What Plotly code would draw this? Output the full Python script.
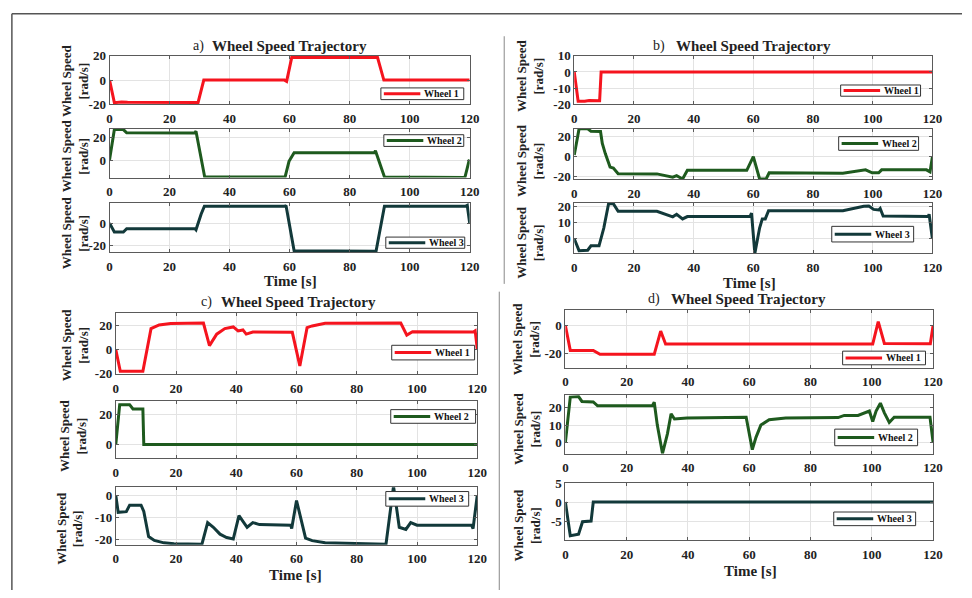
import plotly.graph_objects as go

# ---------------- data ----------------
a_w1_t = [0, 1.6, 4, 6, 29.5, 31.4, 58.3, 59, 60.7, 89.3, 91.4, 120]
a_w1_v = [0, -18.5, -18, -18.2, -18.3, 0, 0, -1, 18.5, 18.5, 0, 0]
a_w2_t = [0, 1.6, 4.6, 5.7, 28.4, 28.8, 31.7, 58.5, 59.8, 61.5, 88.3, 88.6, 91.6, 118.4, 119.8, 120]
a_w2_v = [0.8, 27, 27, 24.2, 24, 25.6, -14, -14, -0.5, 7, 7, 8.7, -14, -14.5, 0, 0]
a_w3_t = [0, 1.6, 4.6, 5.7, 28.4, 28.8, 30.5, 31.6, 58.5, 58.8, 61.5, 88.8, 91.6, 118.7, 119.2, 120]
a_w3_v = [0, -8, -8, -5, -4.8, -6, 8, 15.3, 15.3, 16, -25, -25.5, 15.3, 15.3, 16, 0]

b_w1_t = [0, 1.3, 3.5, 5, 8.5, 9, 120]
b_w1_v = [0, -18, -18, -17.5, -17.7, 0, 0]
b_w2_t = [0, 1.6, 4.5, 5.6, 8.8, 9.4, 10.4, 12, 13.1, 14.7, 27.7, 33, 34.3, 35.7, 36.3, 37.9,
          57.8, 60, 62.1, 64.3, 65.3, 90, 96.5, 97.6, 99.8, 102, 103, 118, 119.2, 120]
b_w2_v = [1.6, 27.4, 27.4, 25, 24.8, 13, 3, -10.3, -11.3, -16.8, -17, -20.3, -18.7, -21, -22, -13.5,
          -13.5, 0, -22, -22, -16, -16.3, -13.5, -13, -16, -16, -13, -13, -15, 0]
b_w3_t = [0, 1.6, 4.5, 5.6, 8.3, 9.9, 11.5, 13.1, 14.7, 27.7, 33, 34.3, 36.3, 37.9, 58.9, 59.4, 60.5,
          62.1, 63, 64, 65.1, 90, 97, 98.7, 100.3, 102, 102.5, 103.5, 118.6, 118.9, 120]
b_w3_v = [0, -7.5, -7.2, -4.5, -4.5, 6.7, 22, 22, 17.2, 17.2, 13.7, 15.3, 12.4, 13.9, 14, 16, -9.2,
          6.7, 12.4, 12.4, 17.5, 17.5, 20.4, 20.5, 18.4, 18, 19, 14.2, 14, 15.3, 0]

c_w1_t = [0, 1.5, 9, 11.7, 14.4, 18.2, 29.1, 31.1, 33.5, 36.2, 39, 40.6, 42.2, 43.3, 45.5, 58.6,
          61.1, 63.5, 65.2, 69.5, 94.6, 96.6, 98.5, 118.7, 119.3, 120]
c_w1_v = [0, -18, -18, 17.4, 20.4, 21.7, 22, 3.3, 12.8, 17.4, 18.8, 15.5, 16.3, 12.8, 14.5, 14.3,
          -13.6, 18.2, 19.6, 21.8, 22, 12, 14.8, 14.5, 15.5, 0.5]
c_w2_t = [0, 1.3, 4.6, 5.7, 9, 9.3, 120]
c_w2_v = [0, 26.5, 26.5, 23.6, 23.6, 0, 0]
c_w3_t = [0, 0.8, 3.5, 4.6, 8.4, 9.3, 10.9, 12.8, 16, 19.3, 28.6, 30.5, 32.4, 34.6, 36.8, 39, 40.9,
          42.2, 43.6, 45.5, 47.7, 58.1, 58.4, 60, 63, 65.2, 69.5, 89.7, 92.2, 94.1, 96.3, 97.9, 100,
          118.1, 118.6, 120]
c_w3_v = [0, -7.7, -7.4, -4.5, -4.5, -7.3, -18.6, -20.3, -21.4, -21.8, -22, -12.3, -14.4, -17.5,
          -19, -19.7, -9.2, -11.5, -14.4, -12.3, -13.2, -13.5, -15, -2.4, -19.3, -20.4, -21.4, -22,
          4, -14.4, -15.4, -12.3, -13.5, -13.5, -15, 0]

d_w1_t = [0, 1.6, 9.1, 11.3, 29, 31.1, 32.7, 100.3, 102.1, 104.1, 119.1, 120]
d_w1_v = [0, -17.7, -17.7, -20.5, -20.5, -4, -13.2, -13.2, 2.7, -12.8, -13, 0]
d_w2_t = [0, 1.6, 4.3, 5.4, 9.1, 10.5, 28.4, 29, 30, 31.7, 33.3, 34.5, 35.6, 39.7, 59, 61, 62.2,
          63.8, 66.5, 71.9, 89, 91, 95.5, 99.2, 100.3, 101.4, 102.8, 104.1, 105.7, 107.3, 119, 120]
d_w2_v = [0, 26, 26.3, 23.5, 23.2, 21, 21, 23, 10, -6.2, 5, 16.5, 13.5, 14, 14.5, -4, 3,
          10, 13, 14, 14.3, 15.5, 15.5, 18, 12, 18, 22.5, 17, 11.5, 14.5, 14.5, 0]
d_w3_t = [0, 1.6, 4.3, 5.6, 8.4, 9.1, 120]
d_w3_v = [0, -8.9, -8.5, -5.2, -5, 0, 0]

wheel_names = ["Wheel 1", "Wheel 2", "Wheel 3"]
panel_labels = ["a)", "b)", "c)", "d)"]
title_text = "Wheel Speed Trajectory"
x_ticks = [0, 20, 40, 60, 80, 100, 120]
y_ticks = [
    [-20, 0, 20], [0, 20], [-20, 0],
    [-20, -10, 0, 10], [-20, 0, 20], [0, 10, 20],
    [-20, 0, 20], [0, 20], [-20, -10, 0],
    [-20, 0], [0, 10, 20], [-5, 0, 5],
]
y_ranges = [
    [-20, 20], [-14.6, 27.6], [-26.5, 18.5],
    [-20, 10], [-22.3, 27.4], [-9.2, 22.6],
    [-20.5, 30], [-9, 29], [-22.3, 3.5],
    [-30, 11], [-6.4, 27], [-10, 5],
]

series = [
    (a_w1_t, a_w1_v), (a_w2_t, a_w2_v), (a_w3_t, a_w3_v),
    (b_w1_t, b_w1_v), (b_w2_t, b_w2_v), (b_w3_t, b_w3_v),
    (c_w1_t, c_w1_v), (c_w2_t, c_w2_v), (c_w3_t, c_w3_v),
    (d_w1_t, d_w1_v), (d_w2_t, d_w2_v), (d_w3_t, d_w3_v),
]

# ---------------- layout geometry (pixels of the 972x598 page) ----------------
W, H = 972, 598
def fx(p): return p / W
def fy(p): return 1 - p / H

# plot boxes: (x0, x1, ytop, ybottom)
boxes = [
    (108, 473, 50, 100), (108, 473, 125, 175), (108, 473, 200.7, 251.7),
    (579, 942, 50, 100), (579, 942, 125, 176.7), (579, 942, 200.7, 252.7),
    (114.3, 480.7, 314.3, 376.7), (114.3, 480.7, 404, 462.7), (114.3, 480.7, 492.7, 551.7),
    (570, 942.7, 310.7, 370), (570, 942.7, 398.3, 458.3), (570, 942.7, 488.3, 546.7),
]
# legend boxes: (left, right, top, bottom)
legend_boxes = [
    (383, 467, 83, 95), (386, 467, 131, 143), (388, 468, 236, 247.5),
    (849, 930, 80, 91.5), (847, 928, 133, 147), (840, 923, 225, 241),
    (394, 478, 347, 362), (393, 479, 413, 427), (388, 472, 497, 512),
    (851, 935, 353, 367), (843, 927, 433, 450), (842, 925, 518, 532),
]
ylabel_pos = [
    (73, 76), (73, 153), (73, 232),
    (534, 70), (534, 157), (534, 241),
    (73, 347), (71, 440), (67, 535),
    (531, 340), (531, 432), (531, 531),
]
title_pos = [(198, 40, 290), (665, 40, 761), (206, 303, 299), (660, 299, 756)]  # (label x, y, text centre x)
time_pos = [(291, 281), (757, 283), (296, 583), (758, 578)]

colors = ["#F5141E", "#1E5A1E", "#12393A"]
FONT = "Liberation Serif"

fig = go.Figure()
layout = dict(
    autosize=True, margin=dict(l=0, r=0, t=0, b=0, pad=0),
    paper_bgcolor="white", plot_bgcolor="white", showlegend=False,
)
annotations = []
shapes = []

for k in range(12):
    i = k + 1
    sfx = "" if i == 1 else str(i)
    x0, x1, yt, yb = boxes[k]
    t, v = series[k]
    col = colors[k % 3]
    fig.add_trace(go.Scatter(
        x=t, y=v, mode="lines", name=wheel_names[k % 3],
        line=dict(color=col, width=3),
        xaxis=f"x{sfx}", yaxis=f"y{sfx}", showlegend=False,
    ))
    axcommon = dict(
        showline=True, linecolor="#5a5a5a", linewidth=1, mirror="ticks",
        ticks="inside", ticklen=3, tickcolor="#5a5a5a",
        showgrid=True, gridcolor="#e3e3e3", gridwidth=1, zeroline=False,
        tickfont=dict(family=FONT, size=13, color="#222", weight="bold"),
    )
    layout[f"xaxis{sfx}"] = dict(
        domain=[fx(x0), fx(x1)], anchor=f"y{sfx}", range=[0, 120],
        tickvals=x_ticks, ticktext=[str(x) for x in x_ticks], ticklabelstandoff=2, **axcommon,
    )
    layout[f"yaxis{sfx}"] = dict(
        domain=[fy(yb), fy(yt)], anchor=f"x{sfx}", range=y_ranges[k],
        tickvals=y_ticks[k], ticktext=[str(y) for y in y_ticks[k]], **axcommon,
    )
    # legend box (drawn in paper space)
    l, r, tp, bt = legend_boxes[k]
    ym = (tp + bt) / 2
    shapes.append(dict(type="rect", xref="paper", yref="paper", layer="above",
                       x0=fx(l), x1=fx(r), y0=fy(bt), y1=fy(tp),
                       fillcolor="white", line=dict(color="#333", width=1)))
    shapes.append(dict(type="line", xref="paper", yref="paper", layer="above",
                       x0=fx(l + 3), x1=fx(l + 40), y0=fy(ym), y1=fy(ym),
                       line=dict(color=col, width=3)))
    annotations.append(dict(
        x=fx(l + 42), y=fy(ym), xref="paper", yref="paper", showarrow=False,
        text=wheel_names[k % 3], xanchor="left", yanchor="middle",
        font=dict(family=FONT, size=10, color="#111", weight="bold"),
    ))
    yx, yy = ylabel_pos[k]
    annotations.append(dict(
        x=fx(yx), y=fy(yy), xref="paper", yref="paper", showarrow=False,
        text="Wheel Speed<br>[rad/s]", textangle=-90, xanchor="center", yanchor="middle",
        font=dict(family=FONT, size=13, color="#222", weight="bold"),
    ))

for p in range(4):
    lx, ly, tx = title_pos[p]
    annotations.append(dict(
        x=fx(lx), y=fy(ly), xref="paper", yref="paper", showarrow=False,
        text=panel_labels[p], xanchor="center", yanchor="middle",
        font=dict(family=FONT, size=14, color="#222"),
    ))
    annotations.append(dict(
        x=fx(tx), y=fy(ly), xref="paper", yref="paper", showarrow=False,
        text=title_text, xanchor="center", yanchor="middle",
        font=dict(family=FONT, size=15, color="#222", weight="bold"),
    ))
    px, py = time_pos[p]
    annotations.append(dict(
        x=fx(px), y=fy(py), xref="paper", yref="paper", showarrow=False,
        text="Time [s]", xanchor="center", yanchor="middle",
        font=dict(family=FONT, size=15, color="#222", weight="bold"),
    ))

# document frame lines
frame = dict(type="line", xref="paper", yref="paper", line=dict(color="#555", width=1.5))
shapes.append(dict(frame, x0=fx(9), x1=1, y0=fy(7), y1=fy(7)))
shapes.append(dict(frame, x0=fx(9), x1=fx(9), y0=fy(7), y1=0))
shapes.append(dict(frame, x0=fx(508), x1=fx(508), y0=fy(30), y1=fy(284), line=dict(color="#888", width=1)))
shapes.append(dict(frame, x0=fx(503), x1=fx(503), y0=fy(292), y1=0, line=dict(color="#888", width=1)))

layout["annotations"] = annotations
layout["shapes"] = shapes
fig.update_layout(**layout)

post = ("document.documentElement.style.overflow='hidden';"
        "document.body.style.margin='0';document.body.style.overflow='hidden';"
        "var gd=document.getElementById('{plot_id}');"
        "gd.style.position='fixed';gd.style.left='0';gd.style.top='0';")
fig.write_html("out.html", default_width="100vw", default_height="100vh",
               config={"displayModeBar": False, "responsive": True},
               post_script=post)
